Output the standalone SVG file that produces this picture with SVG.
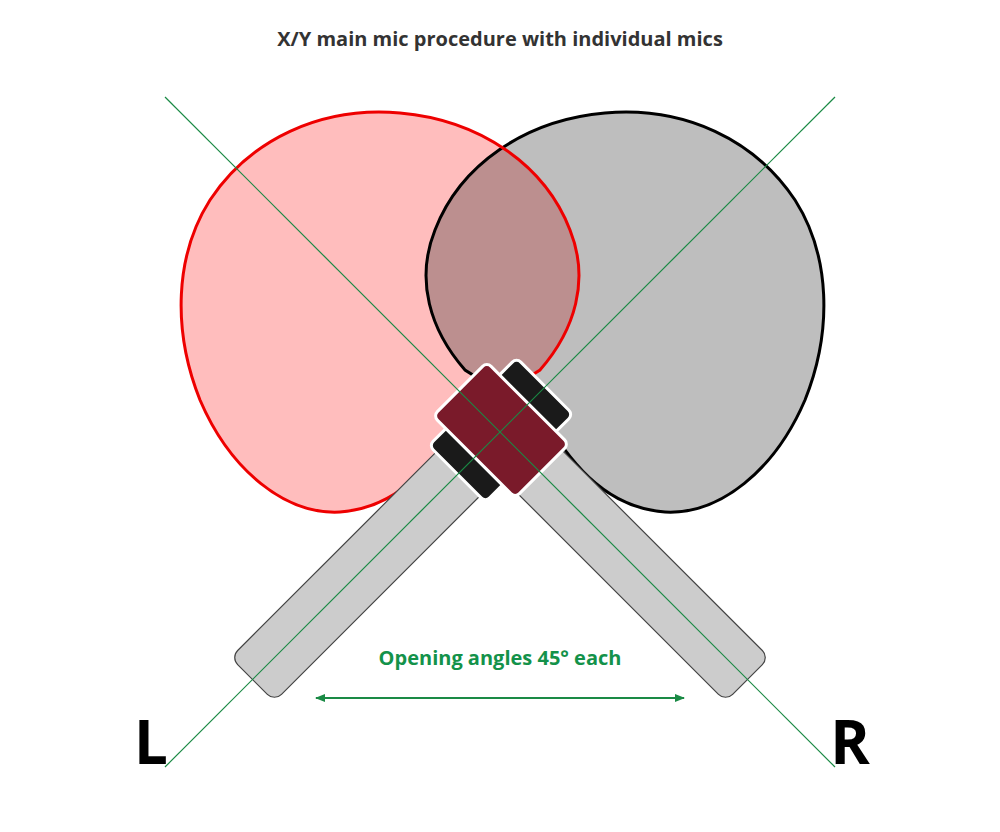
<svg xmlns="http://www.w3.org/2000/svg" width="1000" height="832" viewBox="0 0 1000 832">
<style>
.t{font-family:"Open Sans","Liberation Sans",sans-serif;font-weight:bold}
.h{fill:#cccccc;stroke:#444;stroke-width:1.2}
.cap{fill:#1a1a1a;stroke:#fff;stroke-width:3}
.g{stroke:#1a8a45;stroke-width:1.2;fill:none}
</style>
<defs>
<path id="red" d="M540,370 C575,330 590,280 570,230 C545,165 480,120 400,113 C320,106 250,140 210,200 C175,255 172,330 200,400 C230,470 285,515 340,512 C395,508 430,470 460,420 Z"/>
<path id="gray" d="M465,370 C430,330 415,280 435,230 C460,165 525,120 605,113 C685,106 755,140 795,200 C830,255 833,330 805,400 C775,470 720,515 665,512 C610,508 575,470 545,420 Z"/>
<clipPath id="cg"><use href="#gray"/></clipPath>
<marker id="ar" viewBox="0 0 10 10" refX="9" refY="5" markerWidth="10" markerHeight="10" orient="auto-start-reverse" markerUnits="userSpaceOnUse"><path d="M0,1 L10,5 L0,9 Z" fill="#1a8a45"/></marker>
</defs>
<text class="t" x="500" y="46" text-anchor="middle" font-size="20" fill="#333">X/Y main mic procedure with individual mics</text>
<g id="lobes">
<use href="#red" fill="#ffbdbd"/>
<use href="#gray" fill="#bebebe"/>
<use href="#red" fill="#bc8f8f" clip-path="url(#cg)"/>
<use href="#gray" fill="none" stroke="#000" stroke-width="3"/>
<use href="#red" fill="none" stroke="#e00" stroke-width="3"/>
</g>
<g id="mic-left" transform="translate(500,432) rotate(135)"><rect class="h" x="30" y="-31" width="320" height="62" rx="10"/></g>
<g id="mic-right" transform="translate(500,432) rotate(45)"><rect class="h" x="30" y="-31" width="320" height="62" rx="10"/></g>
<g id="head" transform="translate(501,430) rotate(45)">
<rect class="cap" x="-40" y="-62" width="80" height="30" rx="6"/>
<rect class="cap" x="-40" y="32" width="80" height="30" rx="6"/>
<rect x="-58" y="-38" width="116" height="76" rx="6" fill="#7a1a2a" stroke="#fff" stroke-width="3"/>
</g>
<g id="connectors">
<line class="g" x1="165" y1="97" x2="835" y2="767"/>
<line class="g" x1="835" y1="97" x2="165" y2="767"/>
<line x1="316" y1="698" x2="684" y2="698" stroke="#1a8a45" stroke-width="2" marker-start="url(#ar)" marker-end="url(#ar)"/>
</g>
<text class="t" x="500" y="665" text-anchor="middle" font-size="20" fill="#13924a">Opening angles 45° each</text>
<text class="t" x="151" y="764" text-anchor="middle" font-size="60" fill="#000">L</text>
<text class="t" x="850" y="764" text-anchor="middle" font-size="60" fill="#000">R</text>
</svg>
